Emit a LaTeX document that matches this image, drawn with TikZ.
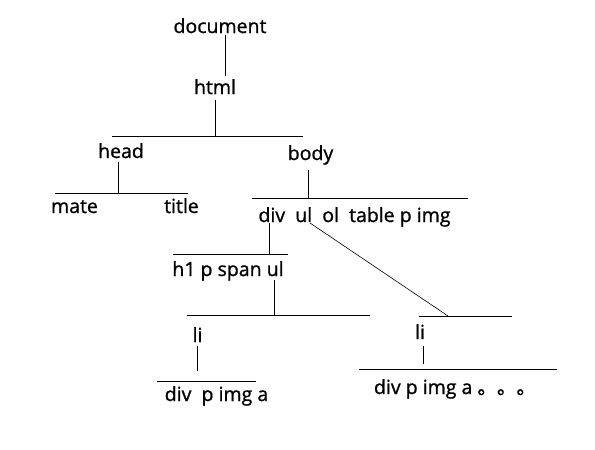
\documentclass[tikz,border=0pt]{standalone}
\usepackage{fontspec}
\setmainfont{Open Sans}[RawFeature={embolden=1}]
\newfontfamily\cjk{Noto Sans CJK SC}[RawFeature={embolden=1}]

\begin{document}
\begin{tikzpicture}[x=1pt, y=-1pt, line width=0.9pt,
  tag/.style={anchor=base, inner sep=0pt, text height=14pt, text depth=4pt,
              font=\fontsize{19.5}{22}\selectfont}]

  \useasboundingbox (0,0) rectangle (595,450);

  % ---------- document -> html ----------
  \node[tag] (document) at (220,33) {document};
  \node[tag] (html) at (215,94) {html};
  \draw ([xshift=5pt,yshift=2pt]document.south) -- ([xshift=10pt,yshift=4pt]html.north);

  % ---------- html -> head / body ----------
  \coordinate (bar1w) at (112,136);
  \coordinate (bar1e) at (303,136);
  \coordinate (j1) at (215,136);
  \draw (bar1w) -- (bar1e);
  \draw ([yshift=-2pt]html.south) -- (j1);
  \node[tag] (head) at (121,158) {head};
  \node[tag] (body) at (310.5,160) {body};

  % ---------- head -> mate / title ----------
  \coordinate (bar2w) at (55,193);
  \coordinate (bar2e) at (188,193);
  \coordinate (j2) at (118,193);
  \draw (bar2w) -- (bar2e);
  \draw (head.south -| j2) -- (j2);
  \node[tag] (mate) at (74.5,213) {mate};
  \node[tag] (title) at (181.5,213) {title};

  % ---------- body -> children ----------
  \coordinate (bar3w) at (252,198);
  \coordinate (bar3e) at (468,198);
  \coordinate (j3) at (308,198);
  \draw (bar3w) -- (bar3e);
  \draw ([yshift=-6pt]body.south -| j3) -- (j3);
  \node[tag] (bodykids) at (354.5,222) {div\ \ ul\ \ ol\ \ table p img};

  % ---------- div -> children ----------
  \coordinate (bar4w) at (173,254);
  \coordinate (bar4e) at (288,254);
  \coordinate (j4) at (269,254);
  \draw (bar4w) -- (bar4e);
  \draw ([yshift=3pt]bodykids.south -| j4) -- (j4);
  \node[tag] (divkids) at (228,276) {h1 p span ul};

  % ---------- ul -> li (left) ----------
  \coordinate (bar5w) at (187,315);
  \coordinate (bar5e) at (370,315);
  \coordinate (j5) at (274,315);
  \draw (bar5w) -- (bar5e);
  \draw (divkids.south -| j5) -- (j5);
  \node[tag] (lileft) at (197.5,342) {li};

  \coordinate (bar6w) at (157,381);
  \coordinate (bar6e) at (256,381);
  \coordinate (j6) at (197,371);
  \draw (bar6w) -- (bar6e);
  \draw (lileft.south -| j6) -- (j6);
  \node[tag] (leftkids) at (216.5,401) {div\ \ p img a};

  % ---------- ul -> li (right) ----------
  \coordinate (ulfoot) at (310,223);
  \coordinate (bar7w) at (419,316);
  \coordinate (bar7e) at (512,316);
  \coordinate (j7) at (448,316);
  \draw (bar7w) -- (bar7e);
  \draw[line width=0.6pt] (ulfoot) -- (j7);
  \node[tag] (liright) at (420,339) {li};

  \coordinate (bar8w) at (359,369);
  \coordinate (bar8e) at (557,369);
  \coordinate (j8) at (423,364);
  \draw (bar8w) -- (bar8e);
  \draw ([yshift=-3pt]liright.south -| j8) -- (j8);
  \node[tag] (rightkids) at (455,394) {div p img a {\cjk 。。。}};

\end{tikzpicture}
\end{document}
